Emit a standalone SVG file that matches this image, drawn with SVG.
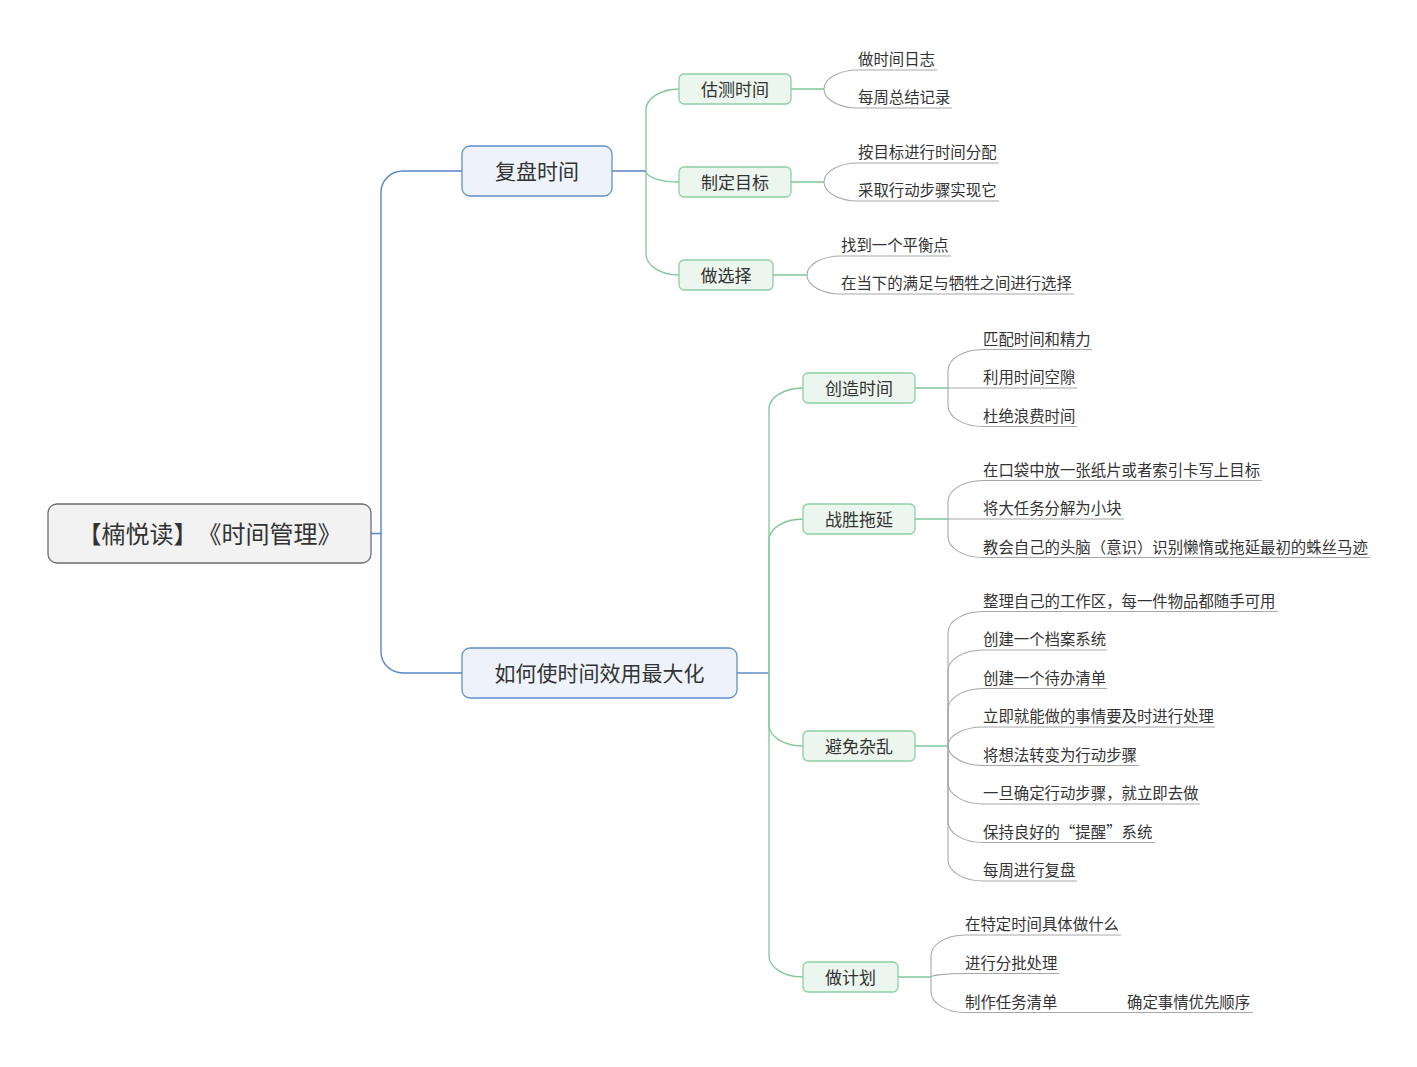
<svg xmlns="http://www.w3.org/2000/svg" width="1417" height="1067" viewBox="0 0 1417 1067">
<style>
text{font-family:"Noto Sans CJK SC","Noto Sans",sans-serif;fill:#333;text-spacing-trim:space-all}
.root rect{fill:#f2f2f2;stroke:#6d6d6d;stroke-width:1.3}
.main rect{fill:#eef3fb;stroke:#5f8fcb;stroke-width:1.3}
.sub rect{fill:#ebf6ee;stroke:#8dd0a5;stroke-width:1.3}
.cb{fill:none;stroke:#5585c4;stroke-width:1.4}
.cg{fill:none;stroke:#7fc79b;stroke-width:1.3}
.cy{fill:none;stroke:#a8a8a8;stroke-width:1.1}
.leaf line{stroke:#a8a8a8;stroke-width:1.1}
.tr{font-size:24px;text-anchor:middle}
.tm{font-size:21px;text-anchor:middle}
.ts{font-size:17px;text-anchor:middle}
.tl{font-size:15.4px}
</style>
<rect width="1417" height="1067" fill="#ffffff"/>
<g id="connectors">
<path class="cb" d="M371,533.5 H381 V192 C381,180.4 390.9,171 403,171 H462"/>
<path class="cb" d="M381,533.5 V652 C381,663.6 390.9,673 403,673 H462"/>
<path class="cb" d="M612,171 H646"/>
<path class="cb" d="M737,673 H769"/>
<path class="cg" d="M646,171 V110 C646,98.4 660.8,89 679,89"/>
<path class="cg" d="M646,171 C646,177.1 660.8,182 679,182"/>
<path class="cg" d="M646,171 V254 C646,265.6 660.8,275 679,275"/>
<path class="cg" d="M769,673 V409 C769,397.4 784.2,388 803,388"/>
<path class="cg" d="M769,673 V540 C769,528.4 784.2,519 803,519"/>
<path class="cg" d="M769,673 V725 C769,736.6 784.2,746 803,746"/>
<path class="cg" d="M769,673 V956 C769,967.6 784.2,977 803,977"/>
<path class="cg" d="M791,89 H824 M791,182 H824 M773,275 H807 M915,388 H948 M915,519 H948 M915,746 H948 M898,977 H931"/>
<path class="cy" d="M824,89 C824,78.5 839.2,70 858,70"/>
<path class="cy" d="M824,89 C824,99.5 839.2,108 858,108"/>
<path class="cy" d="M824,182 C824,171.5 839.2,163 858,163"/>
<path class="cy" d="M824,182 C824,192.5 839.2,201 858,201"/>
<path class="cy" d="M807,275 C807,264.5 822.2,256 841,256"/>
<path class="cy" d="M807,275 C807,285.5 822.2,294 841,294"/>
<path class="cy" d="M948,388 V370.5 C948,358.9 963.7,349.5 983,349.5"/>
<path class="cy" d="M948,388 H983"/>
<path class="cy" d="M948,388 V405.5 C948,417.1 963.7,426.5 983,426.5"/>
<path class="cy" d="M948,519 V501.5 C948,489.9 963.7,480.5 983,480.5"/>
<path class="cy" d="M948,519 H983"/>
<path class="cy" d="M948,519 V536.5 C948,548.1 963.7,557.5 983,557.5"/>
<path class="cy" d="M948,746 V632.5 C948,620.9 963.7,611.5 983,611.5"/>
<path class="cy" d="M948,746 V671 C948,659.4 963.7,650 983,650"/>
<path class="cy" d="M948,746 V709.5 C948,697.9 963.7,688.5 983,688.5"/>
<path class="cy" d="M948,746 C948,735.5 963.7,727 983,727"/>
<path class="cy" d="M948,746 C948,756.8 963.7,765.5 983,765.5"/>
<path class="cy" d="M948,746 V783 C948,794.6 963.7,804 983,804"/>
<path class="cy" d="M948,746 V821.5 C948,833.1 963.7,842.5 983,842.5"/>
<path class="cy" d="M948,746 V860 C948,871.6 963.7,881 983,881"/>
<path class="cy" d="M931,977 V956 C931,944.4 946.2,935 965,935"/>
<path class="cy" d="M931,977 C931,975.4 946.2,973.5 965,973.5"/>
<path class="cy" d="M931,977 V991.5 C931,1003.1 946.2,1012.5 965,1012.5"/>
<path class="cy" d="M1059,1012.5 H1093"/>
</g>
<g id="root" class="root"><rect x="48" y="504" width="323" height="59" rx="9"/><text class="tr" x="209.5" y="542.5">【楠悦读】《时间管理》</text></g>
<g id="n-fupan" class="main"><rect x="462" y="146" width="150" height="50" rx="8"/><text class="tm" x="537" y="179">复盘时间</text></g>
<g id="n-zuida" class="main"><rect x="462" y="648" width="275" height="50" rx="8"/><text class="tm" x="599.5" y="681">如何使时间效用最大化</text></g>
<g id="n-guce" class="sub"><rect x="679" y="74" width="112" height="30" rx="5"/><text class="ts" x="735" y="95.5">估测时间</text></g>
<g id="n-zhiding" class="sub"><rect x="679" y="167" width="112" height="30" rx="5"/><text class="ts" x="735" y="188.5">制定目标</text></g>
<g id="n-xuanze" class="sub"><rect x="679" y="260" width="94" height="30" rx="5"/><text class="ts" x="726" y="281.5">做选择</text></g>
<g id="n-chuangzao" class="sub"><rect x="803" y="373" width="112" height="30" rx="5"/><text class="ts" x="859" y="394.5">创造时间</text></g>
<g id="n-tuoyan" class="sub"><rect x="803" y="504" width="112" height="30" rx="5"/><text class="ts" x="859" y="525.5">战胜拖延</text></g>
<g id="n-zaluan" class="sub"><rect x="803" y="731" width="112" height="30" rx="5"/><text class="ts" x="859" y="752.5">避免杂乱</text></g>
<g id="n-jihua" class="sub"><rect x="803" y="962" width="95" height="30" rx="5"/><text class="ts" x="850.5" y="983.5">做计划</text></g>
<g id="l1" class="leaf"><line x1="858" y1="70" x2="937" y2="70"/><text class="tl" x="858" y="65">做时间日志</text></g>
<g id="l2" class="leaf"><line x1="858" y1="108" x2="952" y2="108"/><text class="tl" x="858" y="103">每周总结记录</text></g>
<g id="l3" class="leaf"><line x1="858" y1="163" x2="999" y2="163"/><text class="tl" x="858" y="158">按目标进行时间分配</text></g>
<g id="l4" class="leaf"><line x1="858" y1="201" x2="999" y2="201"/><text class="tl" x="858" y="196">采取行动步骤实现它</text></g>
<g id="l5" class="leaf"><line x1="841" y1="256" x2="951" y2="256"/><text class="tl" x="841" y="251">找到一个平衡点</text></g>
<g id="l6" class="leaf"><line x1="841" y1="294" x2="1074" y2="294"/><text class="tl" x="841" y="289">在当下的满足与牺牲之间进行选择</text></g>
<g id="l7" class="leaf"><line x1="983" y1="349.5" x2="1092" y2="349.5"/><text class="tl" x="983" y="344.5">匹配时间和精力</text></g>
<g id="l8" class="leaf"><line x1="983" y1="388" x2="1077" y2="388"/><text class="tl" x="983" y="383">利用时间空隙</text></g>
<g id="l9" class="leaf"><line x1="983" y1="426.5" x2="1077" y2="426.5"/><text class="tl" x="983" y="421.5">杜绝浪费时间</text></g>
<g id="l10" class="leaf"><line x1="983" y1="480.5" x2="1262" y2="480.5"/><text class="tl" x="983" y="475.5">在口袋中放一张纸片或者索引卡写上目标</text></g>
<g id="l11" class="leaf"><line x1="983" y1="519" x2="1124" y2="519"/><text class="tl" x="983" y="514">将大任务分解为小块</text></g>
<g id="l12" class="leaf"><line x1="983" y1="557.5" x2="1370" y2="557.5"/><text class="tl" x="983" y="552.5">教会自己的头脑（意识）识别懒惰或拖延最初的蛛丝马迹</text></g>
<g id="l13" class="leaf"><line x1="983" y1="611.5" x2="1278" y2="611.5"/><text class="tl" x="983" y="606.5">整理自己的工作区，每一件物品都随手可用</text></g>
<g id="l14" class="leaf"><line x1="983" y1="650" x2="1107" y2="650"/><text class="tl" x="983" y="645">创建一个档案系统</text></g>
<g id="l15" class="leaf"><line x1="983" y1="688.5" x2="1107" y2="688.5"/><text class="tl" x="983" y="683.5">创建一个待办清单</text></g>
<g id="l16" class="leaf"><line x1="983" y1="727" x2="1215" y2="727"/><text class="tl" x="983" y="722">立即就能做的事情要及时进行处理</text></g>
<g id="l17" class="leaf"><line x1="983" y1="765.5" x2="1139" y2="765.5"/><text class="tl" x="983" y="760.5">将想法转变为行动步骤</text></g>
<g id="l18" class="leaf"><line x1="983" y1="804" x2="1200" y2="804"/><text class="tl" x="983" y="799">一旦确定行动步骤，就立即去做</text></g>
<g id="l19" class="leaf"><line x1="983" y1="842.5" x2="1155" y2="842.5"/><text class="tl" x="983" y="837.5">保持良好的“提醒”系统</text></g>
<g id="l20" class="leaf"><line x1="983" y1="881" x2="1077" y2="881"/><text class="tl" x="983" y="876">每周进行复盘</text></g>
<g id="l21" class="leaf"><line x1="965" y1="935" x2="1121" y2="935"/><text class="tl" x="965" y="930">在特定时间具体做什么</text></g>
<g id="l22" class="leaf"><line x1="965" y1="973.5" x2="1059" y2="973.5"/><text class="tl" x="965" y="968.5">进行分批处理</text></g>
<g id="l23" class="leaf"><line x1="965" y1="1012.5" x2="1059" y2="1012.5"/><text class="tl" x="965" y="1007.5">制作任务清单</text></g>
<g id="l24" class="leaf"><line x1="1093" y1="1012.5" x2="1253" y2="1012.5"/><text class="tl" x="1127" y="1007.5">确定事情优先顺序</text></g>
</svg>
